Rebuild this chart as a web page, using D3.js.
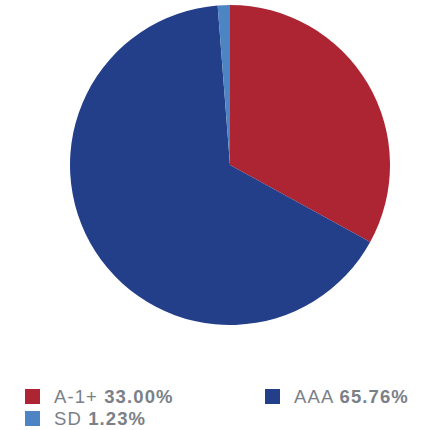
<!DOCTYPE html>
<html>
<head>
<meta charset="utf-8">
<script src="https://cdn.jsdelivr.net/npm/d3@7"></script>
<style>
  body { margin: 0; background: #fff; }
</style>
</head>
<body>
<div id="chart"></div>
<script>
let labels = ['A-1+', 'AAA', 'SD'];
let values = [33.00, 65.76, 1.23];
let colors = ['#ad2532', '#243f8a', '#4d84c3'];

let width = 426, height = 430;
let radius = 160;

let svg = d3.select('#chart').append('svg')
    .attr('width', width)
    .attr('height', height);

let CENTER = svg.append('g')
    .attr('transform', 'translate(' + 230 + ',' + 165 + ')');

let pie = d3.pie().sort(null).value((d) => d.value);
let arc = d3.arc().innerRadius(0).outerRadius(radius);

let data = labels.map((l, i) => ({label: l, value: values[i], color: colors[i]}));

CENTER.selectAll('path')
    .data(pie(data))
    .enter()
    .append('path')
    .attr('d', arc)
    .attr('fill', (d) => d.data.color);

// legend: two columns, filled row by row
let legendPos = [{x: 25, y: 389}, {x: 265, y: 389}, {x: 25, y: 411}];

let legend = svg.append('g').selectAll('g')
    .data(data)
    .enter()
    .append('g')
    .attr('transform', (d, i) => 'translate(' + legendPos[i].x + ',' + legendPos[i].y + ')');

legend.append('rect')
    .attr('width', 15)
    .attr('height', 15)
    .attr('fill', (d) => d.color);

let txt = legend.append('text')
    .attr('x', 29)
    .attr('y', 14)
    .attr('font-family', 'Liberation Sans, Arial, sans-serif')
    .attr('font-size', 18.5)
    .attr('letter-spacing', 1.1)
    .attr('fill', '#7b7f88');

txt.append('tspan').text((d) => d.label + ' ');
txt.append('tspan').attr('font-weight', 'bold').text((d) => d.value.toFixed(2) + '%');
</script>
</body>
</html>
